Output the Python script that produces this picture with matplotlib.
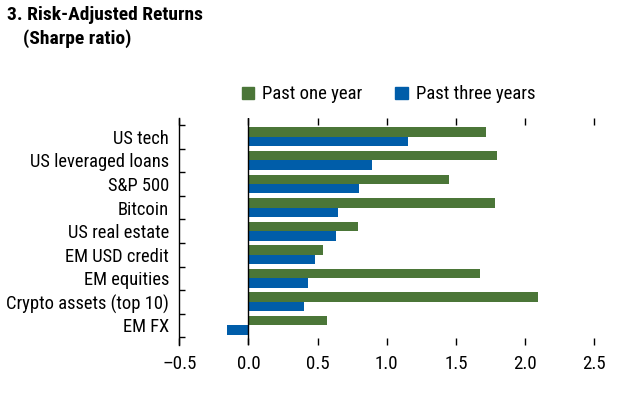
import numpy as np
from matplotlib import pyplot as plt
from matplotlib import font_manager
from matplotlib.patches import Patch

# pick a narrow sans if one is there, otherwise Liberation Sans (Arial metrics)
installed = {f.name for f in font_manager.fontManager.ttflist}
narrow = [n for n in ['Liberation Sans Narrow', 'Roboto Condensed', 'Open Sans Condensed'] if n in installed]
if narrow:
    family, fs = narrow[0], 13.3
else:
    family, fs = 'Liberation Sans', 12
plt.rcParams['font.family'] = [family, 'DejaVu Sans']

# data -----------------------------------------------------------------------------
categories = ['US tech', 'US leveraged loans', 'S&P 500', 'Bitcoin', 'US real estate',
              'EM USD credit', 'EM equities', 'Crypto assets (top 10)', 'EM FX']
past_one_year = [1.72, 1.80, 1.45, 1.785, 0.79, 0.54, 1.675, 2.095, 0.57]
past_three_years = [1.155, 0.895, 0.80, 0.65, 0.635, 0.48, 0.43, 0.40, -0.155]
series_names = ['Past one year', 'Past three years']
xticks = [-0.5, 0.0, 0.5, 1.0, 1.5, 2.0, 2.5]

green = '#4B7638'
blue = '#005DA9'

fig = plt.figure(figsize=(6.17, 3.96), dpi=100, facecolor='white')
ax = fig.add_axes([0.2906, 0.1288, 0.6726, 0.5732])

y = np.arange(len(categories))
h = 0.40
ax.barh(y - h / 2, past_one_year, height=h, color=green)
ax.barh(y + h / 2, past_three_years, height=h, color=blue)

ax.set_xlim(-0.5, 2.5)
ax.set_ylim(len(categories) - 0.5 + 0.33, -0.5 - 0.3)
ax.axvline(0, color='black', lw=1)

# spines and ticks
for s in ['top', 'right', 'bottom']:
    ax.spines[s].set_visible(False)
ax.spines['left'].set_linewidth(1)

ax.set_yticks(y)
ax.set_yticklabels(categories)
ax.set_yticks(np.arange(-0.5, len(categories), 1), minor=True)
ax.tick_params(axis='y', which='major', length=0, pad=7.5, labelsize=fs)
ax.tick_params(axis='y', which='minor', direction='in', length=4.5, width=1)

ax.set_xticks(xticks)
ax.set_xticklabels(['\u2013' + f'{-v:.1f}' if v < 0 else f'{v:.1f}' for v in xticks])
ax.tick_params(axis='x', which='major', direction='in', length=5, width=1,
               top=True, bottom=True, labelsize=fs + 0.3, pad=7)

# title
fig.text(0.011, 0.963, '3. Risk-Adjusted Returns', fontsize=14, fontweight='bold',
         ha='left', va='center')
fig.text(0.037, 0.903, '(Sharpe ratio)', fontsize=14, fontweight='bold',
         ha='left', va='center')

# legend
handles = [Patch(color=green), Patch(color=blue)]
fig.legend(handles, series_names, loc='center left', bbox_to_anchor=(0.3917, 0.7614),
           ncol=2, frameon=False, fontsize=fs + 0.2, handlelength=0.66, handleheight=0.66,
           handletextpad=0.44, columnspacing=1.75, borderpad=0, borderaxespad=0)

fig.savefig('out.png', dpi=100)
